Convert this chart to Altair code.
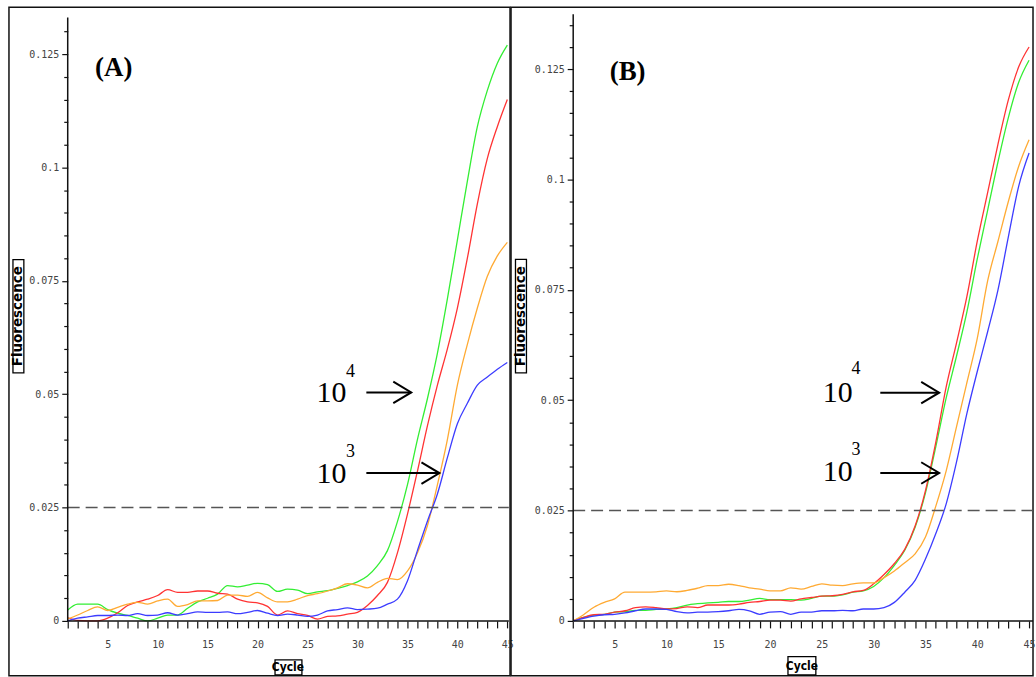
import altair as alt
import pandas as pd

# ---------------- data ----------------
cycles = list(range(1, 46))
series_names = ["Green", "Red", "Orange", "Blue"]
series_colors = ["#33ee33", "#ff3333", "#ffaa33", "#3c3cff"]

A_green = [0.0024, 0.0037, 0.0037, 0.0037, 0.0025, 0.0017, 0.0012, 0.0006, 0.0000, 0.0006,
           0.0013, 0.0013, 0.0028, 0.0042, 0.0050, 0.0059, 0.0078, 0.0075, 0.0079, 0.0083,
           0.0080, 0.0065, 0.0070, 0.0068, 0.0060, 0.0064, 0.0067, 0.0072, 0.0078, 0.0086,
           0.0099, 0.0122, 0.0155, 0.0219, 0.0300, 0.0400, 0.0490, 0.0590, 0.0710, 0.0840,
           0.0970, 0.1090, 0.1170, 0.1230, 0.1270]
A_red = [0.0007, 0.0001, 0.0000, 0.0000, 0.0006, 0.0018, 0.0034, 0.0042, 0.0048, 0.0056,
         0.0069, 0.0063, 0.0063, 0.0066, 0.0066, 0.0061, 0.0059, 0.0048, 0.0042, 0.0040,
         0.0032, 0.0013, 0.0022, 0.0016, 0.0012, 0.0004, 0.0010, 0.0011, 0.0015, 0.0019,
         0.0034, 0.0056, 0.0085, 0.0150, 0.0235, 0.0330, 0.0430, 0.0520, 0.0600, 0.0690,
         0.0800, 0.0920, 0.1020, 0.1090, 0.1150]
A_orange = [0.0004, 0.0013, 0.0023, 0.0031, 0.0023, 0.0030, 0.0037, 0.0041, 0.0037, 0.0044,
            0.0048, 0.0032, 0.0036, 0.0044, 0.0044, 0.0045, 0.0057, 0.0057, 0.0054, 0.0063,
            0.0051, 0.0042, 0.0042, 0.0048, 0.0056, 0.0060, 0.0066, 0.0073, 0.0082, 0.0079,
            0.0073, 0.0085, 0.0094, 0.0091, 0.0110, 0.0150, 0.0210, 0.0300, 0.0400, 0.0520,
            0.0610, 0.0690, 0.0760, 0.0805, 0.0835]
A_blue = [0.0000, 0.0006, 0.0009, 0.0012, 0.0012, 0.0013, 0.0012, 0.0016, 0.0012, 0.0013,
          0.0018, 0.0013, 0.0016, 0.0020, 0.0019, 0.0019, 0.0020, 0.0016, 0.0019, 0.0023,
          0.0017, 0.0012, 0.0015, 0.0013, 0.0010, 0.0013, 0.0022, 0.0025, 0.0029, 0.0025,
          0.0026, 0.0028, 0.0037, 0.0048, 0.0088, 0.0155, 0.0220, 0.0280, 0.0360, 0.0435,
          0.0480, 0.0520, 0.0538, 0.0555, 0.0570]

B_green = [0.0000, 0.0008, 0.0013, 0.0015, 0.0020, 0.0021, 0.0024, 0.0024, 0.0026, 0.0027,
           0.0030, 0.0036, 0.0039, 0.0041, 0.0042, 0.0044, 0.0044, 0.0047, 0.0051, 0.0048,
           0.0048, 0.0048, 0.0047, 0.0051, 0.0056, 0.0056, 0.0059, 0.0065, 0.0068, 0.0078,
           0.0098, 0.0126, 0.0160, 0.0212, 0.0290, 0.0395, 0.0505, 0.0600, 0.0700, 0.0820,
           0.0930, 0.1040, 0.1140, 0.1220, 0.1270]
B_red = [0.0000, 0.0008, 0.0014, 0.0015, 0.0020, 0.0023, 0.0030, 0.0032, 0.0030, 0.0027,
         0.0028, 0.0032, 0.0030, 0.0036, 0.0036, 0.0036, 0.0038, 0.0042, 0.0044, 0.0047,
         0.0047, 0.0045, 0.0050, 0.0053, 0.0056, 0.0057, 0.0060, 0.0066, 0.0069, 0.0084,
         0.0105, 0.0130, 0.0162, 0.0215, 0.0295, 0.0405, 0.0530, 0.0630, 0.0735, 0.0860,
         0.0970, 0.1080, 0.1180, 0.1255, 0.1300]
B_orange = [0.0000, 0.0014, 0.0031, 0.0042, 0.0050, 0.0065, 0.0065, 0.0065, 0.0066, 0.0068,
            0.0066, 0.0069, 0.0074, 0.0080, 0.0080, 0.0083, 0.0080, 0.0075, 0.0072, 0.0068,
            0.0068, 0.0075, 0.0072, 0.0078, 0.0084, 0.0081, 0.0080, 0.0084, 0.0086, 0.0086,
            0.0098, 0.0113, 0.0132, 0.0152, 0.0190, 0.0260, 0.0340, 0.0440, 0.0540, 0.0640,
            0.0770, 0.0860, 0.0950, 0.1030, 0.1090]
B_blue = [0.0000, 0.0006, 0.0011, 0.0014, 0.0015, 0.0018, 0.0023, 0.0027, 0.0027, 0.0026,
          0.0021, 0.0018, 0.0020, 0.0020, 0.0021, 0.0023, 0.0026, 0.0023, 0.0015, 0.0020,
          0.0021, 0.0015, 0.0020, 0.0020, 0.0023, 0.0023, 0.0024, 0.0023, 0.0027, 0.0027,
          0.0030, 0.0042, 0.0065, 0.0092, 0.0140, 0.0198, 0.0265, 0.0360, 0.0470, 0.0565,
          0.0655, 0.0750, 0.0870, 0.0985, 0.1060]

threshold = 0.025
x_ticks = list(range(1, 46))
y_ticks_A = [round(i * 0.005, 3) for i in range(27)]
y_ticks_B = [round(i * 0.005, 3) for i in range(28)]

# annotation anchors (data coordinates: cycle, fluorescence)
ann_A = {
    "panel": ("(A)", 5.60, 0.1219),
    "base": [("10", 27.40, 0.0502), ("10", 27.40, 0.0325)],
    "sup": [("4", 29.29, 0.0550), ("3", 29.29, 0.0372)],
    "arrows": [(30.89, 35.38, 0.0504), (30.89, 38.20, 0.0326)],
    "ylab": (-3.93, 0.0672, -4.48, -3.39, 0.0797, 0.0547),
    "xlab": (23.04, -0.0101, 21.75, 24.44, -0.0086, -0.0119),
}
ann_B = {
    "panel": ("(B)", 6.25, 0.1243),
    "base": [("10", 26.54, 0.0516), ("10", 26.54, 0.0337)],
    "sup": [("4", 28.30, 0.0570), ("3", 28.30, 0.0386)],
    "arrows": [(30.64, 36.32, 0.0517), (30.64, 36.32, 0.0335)],
    "ylab": (-4.04, 0.0690, -4.57, -3.51, 0.0819, 0.0562),
    "xlab": (23.08, -0.0102, 21.73, 24.42, -0.0081, -0.0122),
}

MAJOR = "round(datum.value*1000) % 25 == 0"


def panel(vals, xdom, ydom, yticks, yoff, xoff, x_end, y_top, ann, w, h):
    xs = alt.Scale(domain=xdom, nice=False, zero=False)
    ys = alt.Scale(domain=ydom, nice=False, zero=False)

    rows = []
    for name, v in zip(series_names, vals):
        for c, f in zip(cycles, v):
            rows.append({"cycle": c, "value": f, "series": name})
    df = pd.DataFrame(rows)

    yaxis = alt.Axis(orient="left", offset=yoff, values=yticks,
                     labelExpr=f"{MAJOR} ? format(datum.value, '~g') : ''",
                     tickSize={"condition": {"test": MAJOR, "value": 6}, "value": 4},
                     domain=False, grid=False, title=None,
                     labelFont="DejaVu Sans Mono", labelFontSize=10, labelColor="#444",
                     tickColor="#111", tickWidth=1.2, labelPadding=3,
                     labelOverlap=False, labelFlush=False)
    xaxis = alt.Axis(orient="bottom", offset=xoff, values=x_ticks,
                     labelExpr="datum.value % 5 == 0 ? format(datum.value, 'd') : ''",
                     tickSize=7, domain=False, grid=False, title=None,
                     labelFont="DejaVu Sans Mono", labelFontSize=10, labelColor="#444",
                     tickColor="#111", tickWidth=1.2, labelPadding=12,
                     labelOverlap=False, labelFlush=False)

    X = lambda f: alt.X(f, scale=xs, axis=xaxis, title=None)
    Y = lambda f: alt.Y(f, scale=ys, axis=yaxis, title=None)

    lines = alt.Chart(df).mark_line(strokeWidth=1.3, interpolate="monotone").encode(
        x=X("cycle:Q"),
        y=Y("value:Q"),
        color=alt.Color("series:N", scale=alt.Scale(domain=series_names, range=series_colors),
                        legend=None),
    )

    axes_df = pd.DataFrame({"cycle": [1, 1], "cycle2": [x_end, 1],
                            "value": [0, 0], "value2": [0, y_top]})
    axis_lines = alt.Chart(axes_df).mark_rule(color="#111", strokeWidth=1.5).encode(
        x=X("cycle:Q"), x2="cycle2:Q", y=Y("value:Q"), y2="value2:Q")

    thr_df = pd.DataFrame({"cycle": [1], "cycle2": [x_end], "value": [threshold]})
    thr = alt.Chart(thr_df).mark_rule(color="#555", strokeWidth=1.5, strokeDash=[12, 6]).encode(
        x=X("cycle:Q"), x2="cycle2:Q", y=Y("value:Q"))

    arr_df = pd.DataFrame([{"cycle": a, "cycle2": b, "value": v} for a, b, v in ann["arrows"]])
    shafts = alt.Chart(arr_df).mark_rule(color="black", strokeWidth=2).encode(
        x=X("cycle:Q"), x2="cycle2:Q", y=Y("value:Q"))
    heads = alt.Chart(arr_df).mark_point(shape="M -1 -0.6 L 0 0 L -1 0.6", filled=False,
                                         size=1296, strokeWidth=2, color="black",
                                         opacity=1).encode(
        x=X("cycle2:Q"), y=Y("value:Q"))

    base_df = pd.DataFrame([{"t": t, "cycle": c, "value": v} for t, c, v in ann["base"]])
    base_txt = alt.Chart(base_df).mark_text(font="Liberation Serif", fontSize=30,
                                            align="center", baseline="middle",
                                            color="black").encode(
        x=X("cycle:Q"), y=Y("value:Q"), text="t:N")
    sup_df = pd.DataFrame([{"t": t, "cycle": c, "value": v} for t, c, v in ann["sup"]])
    sup_txt = alt.Chart(sup_df).mark_text(font="Liberation Serif", fontSize=18,
                                          align="center", baseline="middle",
                                          color="black").encode(
        x=X("cycle:Q"), y=Y("value:Q"), text="t:N")

    pt, pc, pv = ann["panel"]
    pan_df = pd.DataFrame([{"t": pt, "cycle": pc, "value": pv}])
    pan_txt = alt.Chart(pan_df).mark_text(font="Liberation Serif", fontSize=27,
                                          fontWeight="bold", align="center",
                                          baseline="middle", color="black").encode(
        x=X("cycle:Q"), y=Y("value:Q"), text="t:N")

    yc, yv, yx1, yx2, yy1, yy2 = ann["ylab"]
    xc, xv, xx1, xx2, xy1, xy2 = ann["xlab"]
    box_df = pd.DataFrame([{"cycle": yx1, "cycle2": yx2, "value": yy1, "value2": yy2},
                           {"cycle": xx1, "cycle2": xx2, "value": xy1, "value2": xy2}])
    boxes = alt.Chart(box_df).mark_rect(fill="white", stroke="black", strokeWidth=1.3).encode(
        x=X("cycle:Q"), x2="cycle2:Q", y=Y("value:Q"), y2="value2:Q")
    ylab_df = pd.DataFrame([{"t": "Fluorescence", "cycle": yc, "value": yv}])
    ylab = alt.Chart(ylab_df).mark_text(font="DejaVu Sans", fontSize=13.5, fontWeight="bold",
                                        angle=270, align="center", baseline="middle",
                                        color="black").encode(
        x=X("cycle:Q"), y=Y("value:Q"), text="t:N")
    xlab_df = pd.DataFrame([{"t": "Cycle", "cycle": xc, "value": xv}])
    xlab = alt.Chart(xlab_df).mark_text(font="Liberation Sans Narrow, DejaVu Sans Condensed, sans-serif",
                                        fontSize=12, fontWeight="bold", align="center",
                                        baseline="middle", color="black").encode(
        x=X("cycle:Q"), y=Y("value:Q"), text="t:N")

    return alt.layer(lines, thr, axis_lines, shafts, heads, base_txt, sup_txt, pan_txt,
                     boxes, ylab, xlab).properties(width=w, height=h)


pA = panel([A_green, A_red, A_orange, A_blue], [-4.88, 45.27], [-0.01208, 0.13533],
           y_ticks_A, -59, -55, 45.15, 0.1331, ann_A, 503, 671)
pB = panel([B_green, B_red, B_orange, B_blue], [-5.0, 45.38], [-0.01241, 0.13899],
           y_ticks_B, -62.4, -55, 45.38, 0.1374, ann_B, 524, 671)

chart = alt.hconcat(pA, pB, spacing=1, bounds="flush").properties(
    padding={"left": 8, "top": 5, "right": 0, "bottom": 0},
    background="white",
).configure_view(stroke="#111", strokeWidth=1.5)

chart.save("out.html", embed_options={"renderer": "svg", "actions": False})
